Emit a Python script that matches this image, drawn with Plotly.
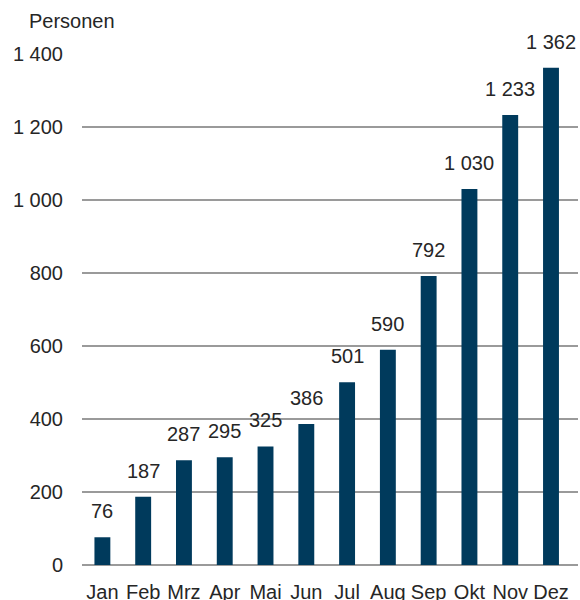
import plotly.graph_objects as go

months = ["Jan", "Feb", "Mrz", "Apr", "Mai", "Jun", "Jul", "Aug", "Sep", "Okt", "Nov", "Dez"]
personen = [76, 187, 287, 295, 325, 386, 501, 590, 792, 1030, 1233, 1362]
y_ticks = [0, 200, 400, 600, 800, 1000, 1200, 1400]

font_family = "Liberation Sans, Arial, sans-serif"
text_color = "#262626"

fig = go.Figure()

fig.add_trace(go.Bar(
    x=months,
    y=personen,
    marker=dict(color="#003a5c", line=dict(width=0)),
    width=0.39,
    hoverinfo="x+y",
))

# value labels above the bars
for m, v in zip(months, personen):
    fig.add_annotation(
        x=m, y=v,
        text=f"{v:,}".replace(",", " "),
        showarrow=False,
        yanchor="bottom",
        yshift=13,
        font=dict(size=20, color=text_color),
    )

fig.add_annotation(
    text="Personen",
    xref="paper", yref="paper",
    x=-0.111, y=1.0,
    xanchor="left", yanchor="bottom",
    yshift=20,
    showarrow=False,
    font=dict(size=20, color=text_color),
)

fig.update_layout(
    width=580,
    height=600,
    margin=dict(l=82, r=2, t=54, b=35),
    plot_bgcolor="white",
    paper_bgcolor="white",
    separators=", ",
    font=dict(family=font_family, size=20, color=text_color),
    showlegend=False,
    xaxis=dict(
        showgrid=False,
        showline=False,
        ticks="",
        tickangle=0,
        automargin=False,
        tickfont=dict(size=20, color=text_color),
        ticklabelstandoff=13,
    ),
    yaxis=dict(
        range=[0, 1400],
        tickvals=y_ticks,
        tickformat=",d",
        separatethousands=True,
        automargin=False,
        showgrid=True,
        gridcolor="#9a9a9a",
        gridwidth=1.5,
        zeroline=True,
        zerolinecolor="#9a9a9a",
        zerolinewidth=1.5,
        showline=False,
        ticks="",
        tickfont=dict(size=20, color=text_color),
        ticklabelstandoff=18,
    ),
)

# page without body margin so the figure sits at the window corner
fig.write_html(
    "out.html",
    config={"displayModeBar": False},
    post_script="document.body.style.margin='0';document.body.style.overflow='hidden';",
)
